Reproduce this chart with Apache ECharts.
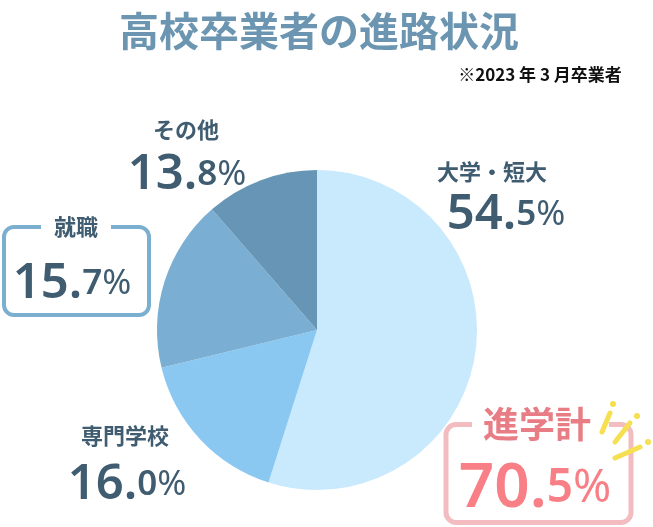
<!DOCTYPE html>
<html><head><meta charset="utf-8">
<style>html,body{margin:0;padding:0;background:#fff}#c{width:653px;height:527px}</style>
<script src="https://cdn.jsdelivr.net/npm/echarts@6/dist/echarts.min.js"></script>
</head><body><div id="c"></div>
<script>
var titleText = '高校卒業者の進路状況';
var noteText = '※2023 年 3 月卒業者';
var categories = ['大学・短大', '専門学校', '就職', 'その他'];
var labelValues = ['54.5', '16.0', '15.7', '13.8'];
var drawnShares = [54.9, 16.3, 17.4, 11.4];
var sliceColors = ['#c9e9fd', '#8ac8f2', '#7aafd3', '#6695b5'];
var totalLabel = '進学計';
var totalValue = '70.5';
var font = '"Noto Sans CJK JP","Noto Sans",sans-serif';
var digitFont = '"Noto Sans","Open Sans",sans-serif';
var dark = '#3f5c70';
var valuePos = [[506, 215], [127, 485], [72, 284], [187, 175]];
var namePos = [[492, 172], [125, 436], [76, 227], [186, 130]];

function rich(color, big, small, useFill) {
  var key = useFill ? 'fill' : 'color';
  function st(size, weight) {
    var o = {fontFamily: digitFont, fontWeight: weight, fontSize: size, lineHeight: big + 6};
    o[key] = color;
    return o;
  }
  return {big: st(big, 600), small: st(small, 600), pct: st(small, 400)};
}
function valueRich(v) {
  var p = v.split('.');
  return '{big|' + p[0] + '.}{small|' + p[1] + '}{pct|%}';
}
var data = categories.map(function (c, i) {
  return {
    name: c, value: drawnShares[i],
    itemStyle: {color: sliceColors[i]},
    label: {
      show: true, position: 'outside',
      formatter: valueRich(labelValues[i]),
      rich: rich(dark, 49, 35, false)
    },
    labelLine: {show: false}
  };
});
var nameTexts = categories.map(function (c, i) {
  return {type: 'text', z: 10, style: {text: c, x: namePos[i][0], y: namePos[i][1], align: 'center', verticalAlign: 'middle',
    fontFamily: font, fontWeight: 700, fontSize: 22, fill: dark}};
});
var chart = echarts.init(document.getElementById('c'), null, {renderer: 'canvas'});
chart.setOption({
  animation: false,
  backgroundColor: '#fff',
  title: {
    text: titleText, left: 314, top: 6, textAlign: 'center',
    textStyle: {fontFamily: font, fontWeight: 700, fontSize: 40, color: '#6b95b0'}
  },
  graphic: [
    {type: 'rect', z: 1, shape: {x: 4, y: 227, width: 145, height: 88, r: 10}, style: {fill: '#fff', stroke: '#7aafd0', lineWidth: 4}},
    {type: 'rect', z: 2, shape: {x: 41, y: 220, width: 70, height: 14}, style: {fill: '#fff'}},
    {type: 'rect', z: 1, shape: {x: 446, y: 424.5, width: 185, height: 98, r: 10}, style: {fill: '#fff', stroke: '#f3bcc0', lineWidth: 5}},
    {type: 'rect', z: 2, shape: {x: 472, y: 416, width: 137, height: 16}, style: {fill: '#fff'}},
    {type: 'text', z: 10, style: {text: noteText, x: 540, y: 75, align: 'center', verticalAlign: 'middle', fontFamily: font, fontWeight: 700, fontSize: 17, fill: '#111'}},
    {type: 'text', z: 10, style: {text: totalLabel, x: 537, y: 424, align: 'center', verticalAlign: 'middle', fontFamily: font, fontWeight: 700, fontSize: 36, fill: '#e87d85'}},
    {type: 'text', z: 10, style: {x: 535, y: 489, align: 'center', verticalAlign: 'middle',
      text: valueRich(totalValue), rich: rich('#f77f85', 62, 46, true)}},
    {type: 'line', z: 10, shape: {x1: 602, y1: 432, x2: 610, y2: 413}, style: {stroke: '#f6df50', lineWidth: 5, lineCap: 'round'}},
    {type: 'line', z: 10, shape: {x1: 615, y1: 442, x2: 630, y2: 423}, style: {stroke: '#f6df50', lineWidth: 5, lineCap: 'round'}},
    {type: 'line', z: 10, shape: {x1: 615, y1: 458, x2: 640, y2: 447}, style: {stroke: '#f6df50', lineWidth: 5, lineCap: 'round'}},
    {type: 'circle', z: 10, shape: {cx: 613, cy: 404, r: 3}, style: {fill: '#f6df50'}},
    {type: 'circle', z: 10, shape: {cx: 637, cy: 416, r: 3}, style: {fill: '#f6df50'}},
    {type: 'circle', z: 10, shape: {cx: 648, cy: 442, r: 3}, style: {fill: '#f6df50'}}
  ].concat(nameTexts),
  series: [{
    type: 'pie', center: [317, 330], radius: [0, 160], startAngle: 90, clockwise: true,
    silent: true, avoidLabelOverlap: false, z: 5, data: data,
    labelLayout: function (params) {
      var p = valuePos[params.dataIndex];
      return {x: p[0], y: p[1], align: 'center', verticalAlign: 'middle', hideOverlap: false};
    }
  }]
});
</script></body></html>
